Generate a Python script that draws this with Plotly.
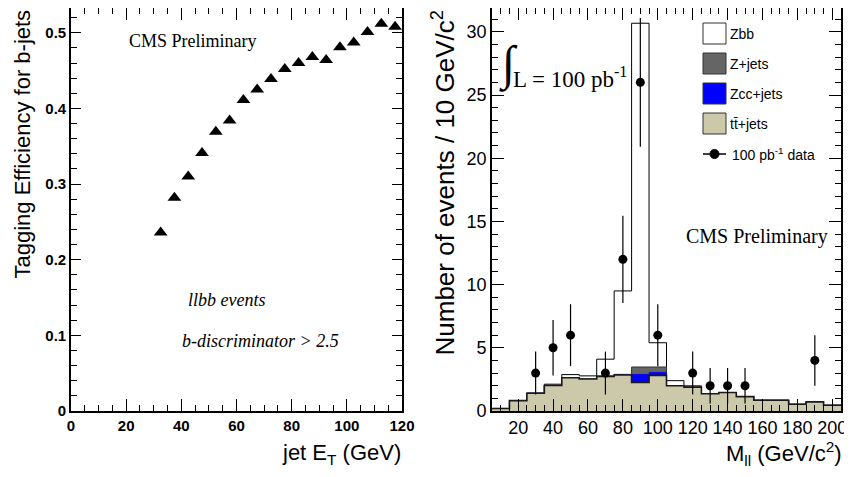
import plotly.graph_objects as go

# the page body keeps an 8px margin, so the figure is drawn a bit smaller
# and every position below is given in window pixels minus that offset
W, H = 852, 477
OFF = 8
FW, FH = W - 2 * OFF, H - 2 * OFF

# left panel: b-tag efficiency vs jet ET
jet_et = [32.5, 37.5, 42.5, 47.5, 52.5, 57.5, 62.5, 67.5, 72.5, 77.5,
          82.5, 87.5, 92.5, 97.5, 102.5, 107.5, 112.5, 117.5]
tag_eff = [0.236, 0.282, 0.310, 0.341, 0.369, 0.384, 0.411, 0.425, 0.439, 0.452,
           0.460, 0.468, 0.464, 0.481, 0.487, 0.501, 0.512, 0.508]

# right panel: dilepton mass, 10 GeV bins (centres)
mass_bins = [10, 20, 30, 40, 50, 60, 70, 80, 90, 100,
             110, 120, 130, 140, 150, 160, 170, 180, 190, 200]
ttbar = [0.2, 0.82, 1.41, 2.02, 2.63, 2.53, 2.74, 2.85, 2.26, 2.82,
         2.0, 1.89, 1.36, 1.46, 1.14, 0.85, 0.85, 0.53, 0.72, 0.45]
zcc = [0, 0, 0, 0, 0, 0, 0, 0, 0.64, 0.24,
       0, 0, 0, 0, 0, 0, 0, 0, 0, 0]
zjets = [0, 0, 0, 0, 0, 0, 0.03, 0.05, 0.58, 0.42,
         0, 0, 0, 0, 0, 0, 0, 0, 0, 0]
zbb = [0, 0, 0, 0.1, 0.25, 0.25, 1.33, 6.6, 27.2, 1.92,
       0.4, 0.1, 0, 0, 0, 0, 0, 0, 0, 0]

data_mass = [30, 40, 50, 70, 80, 90, 100, 120, 130, 140, 150, 190]
data_counts = [3, 5, 6, 3, 12, 26, 6, 3, 2, 2, 2, 4]
data_err = [1.7, 2.2, 2.45, 1.7, 3.45, 5.1, 2.45, 1.7, 1.4, 1.4, 1.4, 2.0]

BIN_W = 10
SANS = "Liberation Sans, Arial, sans-serif"
SERIF = "Liberation Serif, Times New Roman, serif"


def px(x):
    return (x - OFF) / FW


def py(y):
    return 1 - (y - OFF) / FH


def step(vals):
    # left bin edges + closing edge, for hv step drawing
    xs = [c - BIN_W / 2 for c in mass_bins] + [mass_bins[-1] + BIN_W / 2]
    ys = list(vals) + [vals[-1]]
    return xs, ys


# stack: tt at bottom, then Zcc, Z+jets, Zbb on top
s_tt = ttbar
s_cc = [a + b for a, b in zip(s_tt, zcc)]
s_zj = [a + b for a, b in zip(s_cc, zjets)]
s_bb = [a + b for a, b in zip(s_zj, zbb)]

fig = go.Figure()

fig.add_trace(go.Scatter(x=jet_et, y=tag_eff, mode='markers',
                         marker=dict(symbol='triangle-up', size=12, color='black'),
                         xaxis='x', yaxis='y', showlegend=False))

layers = [
    (s_bb, 'white', dict(color='black', width=1)),
    (s_zj, '#656565', dict(color='#333333', width=1)),
    (s_cc, '#0000ff', dict(color='#0000ff', width=0.5)),
    (s_tt, '#ccc8aa', dict(color='#1a1a1a', width=1.6)),
]
for vals, fc, ln in layers:
    xs, ys = step(vals)
    fig.add_trace(go.Scatter(x=xs, y=ys, mode='lines', line_shape='hv',
                             fill='tozeroy', fillcolor=fc, line=ln,
                             xaxis='x2', yaxis='y2', showlegend=False))

fig.add_trace(go.Scatter(x=data_mass, y=data_counts, mode='markers',
                         marker=dict(symbol='circle', size=9, color='black'),
                         error_y=dict(type='data', array=data_err, color='black',
                                      thickness=1.2, width=0),
                         xaxis='x2', yaxis='y2', showlegend=False))


def axis(domain, rng, dtick, mdtick, anchor, tsize, bold, tlen=12, tick0=0):
    return dict(domain=domain, range=rng, dtick=dtick, tick0=tick0, anchor=anchor,
                automargin=False, ticklabeloverflow='allow',
                ticks='inside', ticklen=tlen, tickwidth=1, tickcolor='black',
                mirror='allticks', showline=True, linewidth=1.6, linecolor='black',
                showgrid=False, zeroline=False,
                minor=dict(dtick=mdtick, ticks='inside', ticklen=6, tickcolor='black'),
                tickfont=dict(family=SANS, size=tsize, color='black',
                              weight='bold' if bold else 'normal'))


fig.update_layout(
    width=FW, height=FH,
    margin=dict(l=0, r=0, t=0, b=0),
    paper_bgcolor='white', plot_bgcolor='white',
    xaxis=axis([px(71), px(402)], [0, 120], 20, 5, 'y', 15, True),
    yaxis=axis([py(411), py(8.01)], [0, 0.538 * 403 / 407], 0.1, 0.02, 'x', 15, True, tlen=10),
    xaxis2=axis([px(492), px(841)], [5, 205], 20, 5, 'y2', 18, False),
    yaxis2=axis([py(411), py(8.01)], [0, 32.2 * 403 / 407], 5, 1, 'x2', 18, False),
)

ann = []


def text(x, y, s, size, family=SANS, xanchor='center', yanchor='middle', angle=0):
    ann.append(dict(x=px(x), y=py(y), xref='paper', yref='paper', text=s,
                    showarrow=False, xanchor=xanchor, yanchor=yanchor,
                    textangle=angle, font=dict(family=family, size=size, color='black')))


# axis titles
text(22, 8, "Tagging Efficiency for b-jets", 22, yanchor='top', angle=-90)
text(444, 8, "Number of events / 10 GeV/c<sup>2</sup>", 26, yanchor='top', angle=-90)
text(403, 454, "jet E<sub>T</sub> (GeV)", 22, xanchor='right')
text(844, 453, "M<sub>ll</sub> (GeV/c<sup>2</sup>)", 22, xanchor='right')

# left panel labels
text(127, 41, "CMS Preliminary", 18, SERIF, xanchor='left')
text(186, 300, "<i>llbb events</i>", 18, SERIF, xanchor='left')
text(180, 341, "<i>b-discriminator &gt; 2.5</i>", 18, SERIF, xanchor='left')

# right panel labels
text(684, 236, "CMS Preliminary", 20, SERIF, xanchor='left')
text(508, 64, "∫", 48, SERIF)
text(511, 78, "L = 100 pb<sup>-1</sup>", 23, SERIF, xanchor='left')

# hand-drawn legend
shapes = []
leg_items = [("Zbb", 'white'), ("Z+jets", '#656565'),
             ("Zcc+jets", '#0000ff'), ("tt̄+jets", '#ccc8aa')]
for i, (lab, fc) in enumerate(leg_items):
    y0 = 23 + 30 * i
    shapes.append(dict(type='rect', xref='paper', yref='paper',
                       x0=px(703), x1=px(726), y0=py(y0 + 21), y1=py(y0),
                       fillcolor=fc, line=dict(color='#333333', width=1)))
    text(728, y0 + 11, lab, 14, SANS, xanchor='left')
shapes.append(dict(type='line', xref='paper', yref='paper',
                   x0=px(703), x1=px(726), y0=py(154), y1=py(154),
                   line=dict(color='black', width=1.5)))
shapes.append(dict(type='circle', xref='paper', yref='paper',
                   x0=px(710), x1=px(719), y0=py(158.5), y1=py(149.5),
                   fillcolor='black', line=dict(color='black', width=1)))
text(730, 154, "100 pb<sup>-1</sup> data", 14, SANS, xanchor='left')

fig.update_layout(annotations=ann, shapes=shapes)

fig.write_html("out.html")
